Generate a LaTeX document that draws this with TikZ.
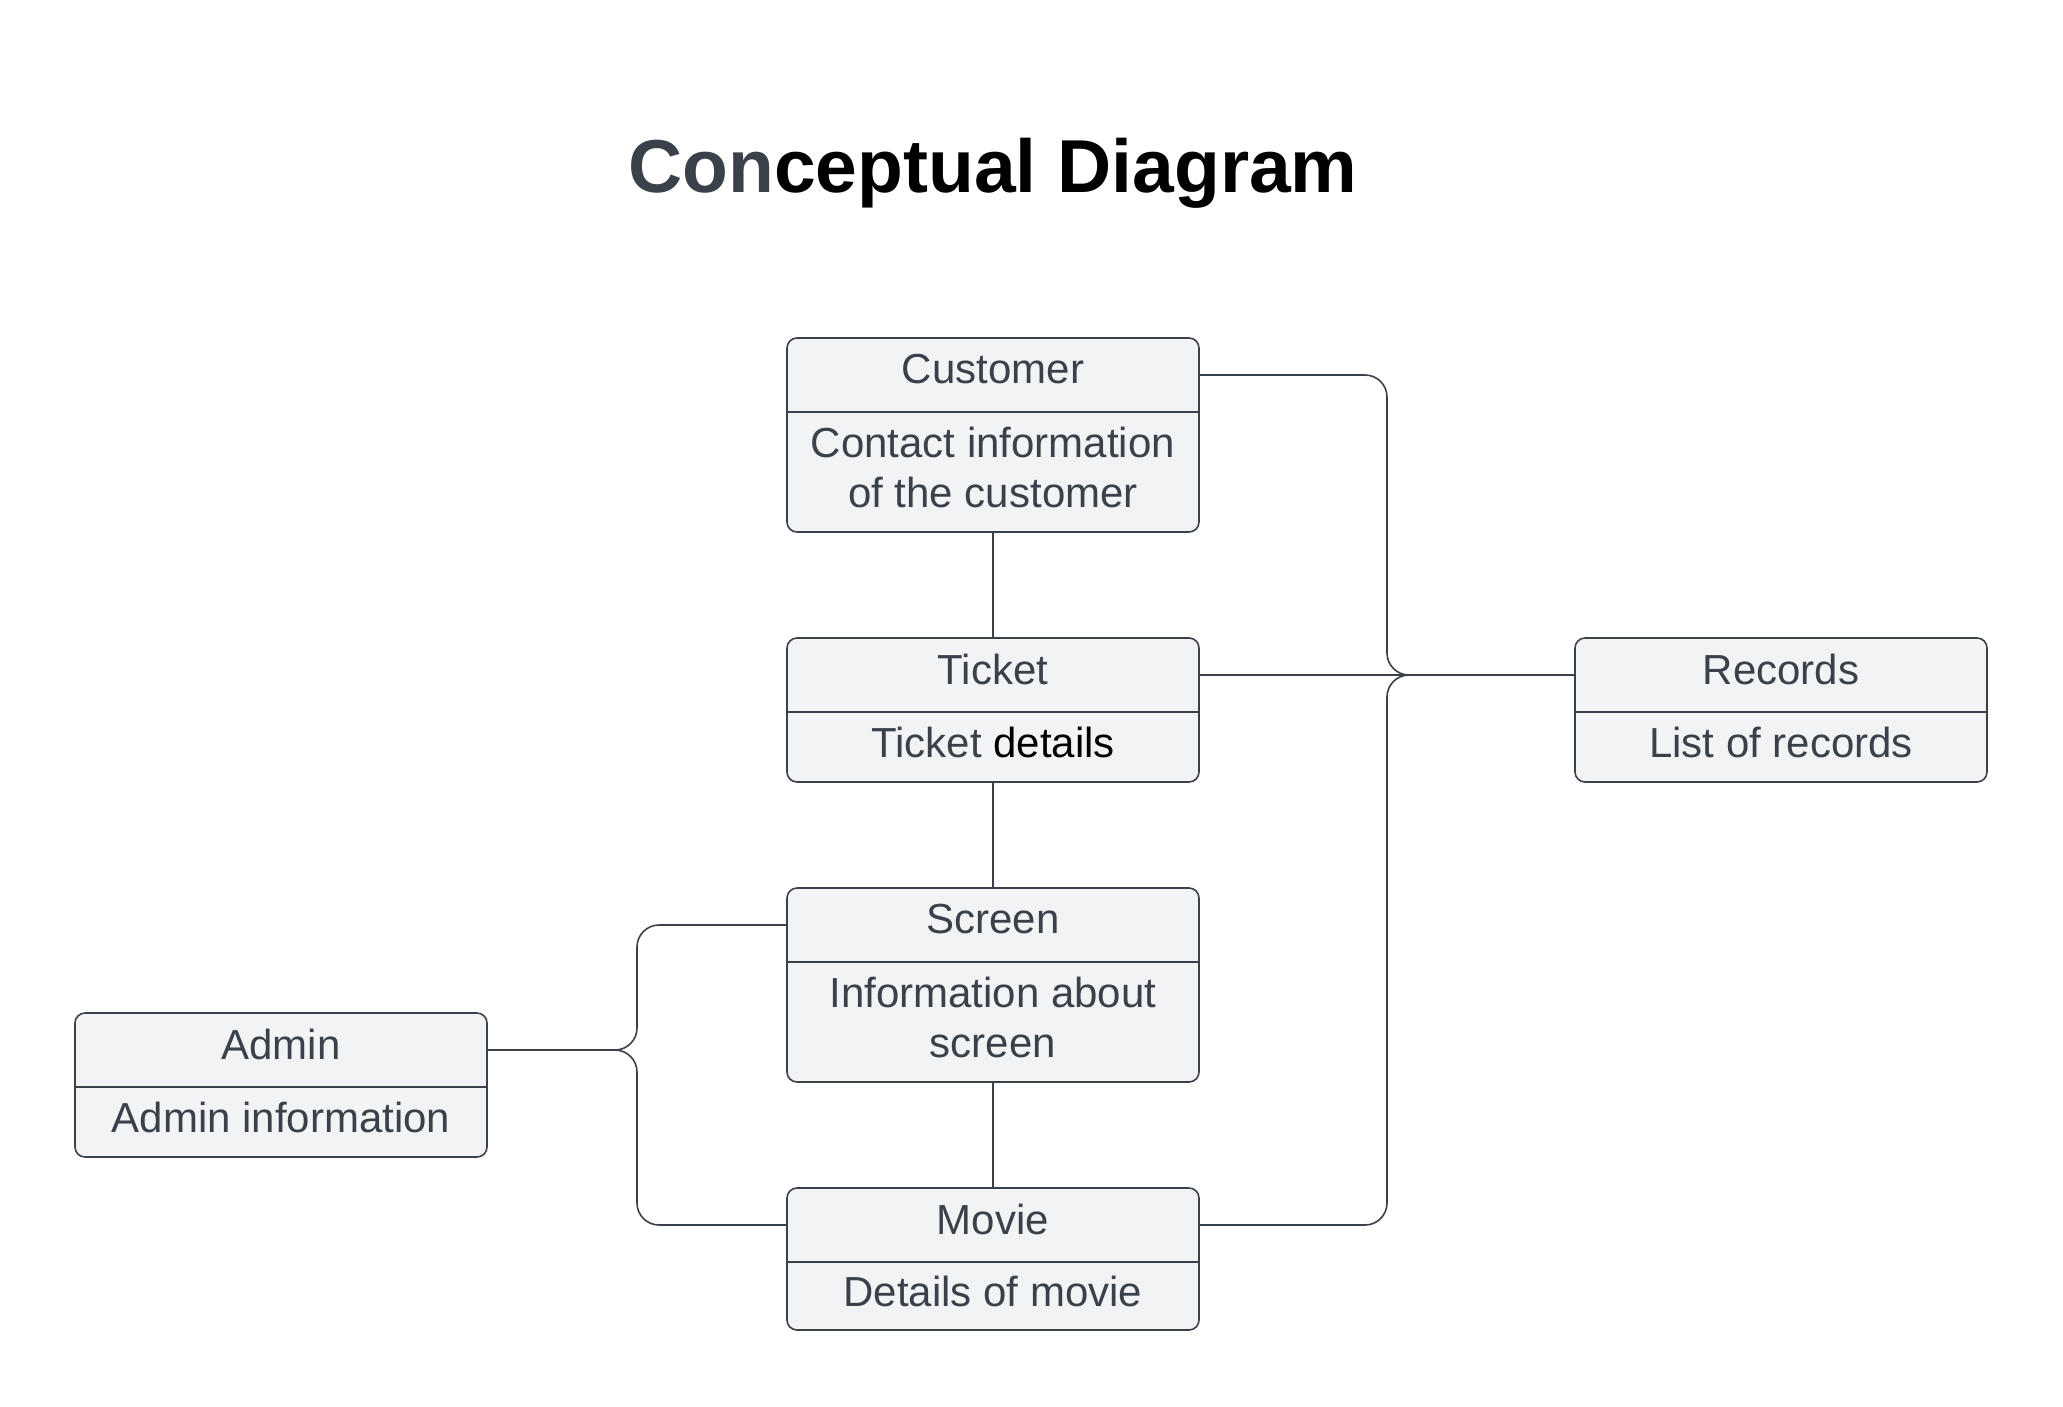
\documentclass[tikz,border=0pt]{standalone}
\usepackage{fontspec}
\setmainfont{Liberation Sans}
\usepackage{xcolor}
\usetikzlibrary{positioning}

\definecolor{ink}{HTML}{3A414A}
\definecolor{boxfill}{HTML}{F2F3F5}

\begin{document}
\begin{tikzpicture}[x=1pt, y=-1pt,
  entbox/.style={draw=ink, fill=boxfill, line width=1.6pt, rounded corners=10pt,
    minimum width=412pt, inner sep=0pt, outer sep=0pt},
  enthead/.style={minimum width=412pt, minimum height=74pt, inner sep=0pt, outer sep=0pt,
    text=ink, font=\fontsize{42}{50}\selectfont},
  entbody/.style={minimum width=412pt, inner sep=0pt, outer sep=0pt,
    text=ink, align=center, font=\fontsize{42}{50}\selectfont},
  divider/.style={draw=ink, line width=1.2pt},
  link/.style={draw=ink, line width=1.6pt, rounded corners=22pt}]
  \useasboundingbox (0,0) rectangle (2063,1406);

  % Title
  \node[anchor=base, font=\fontsize{75}{90}\selectfont\bfseries] (title) at (993,192)
    {\textcolor{ink}{Con}ceptual Diagram};

  % Customer
  \node[entbox, minimum height=194pt, anchor=north] (cust) at (993,338) {};
  \node[enthead, anchor=north] (custH) at (cust.north) {};
  \node[enthead, yshift=6pt] at (custH) {Customer};
  \draw[divider] (custH.south west) -- (custH.south east);
  \node[entbody, minimum height=120pt, anchor=north, yshift=5pt] (custB) at (custH.south)
    {Contact information\\of the customer};

  % Ticket
  \node[entbox, minimum height=144pt, anchor=north] (tick) at (993,638) {};
  \node[enthead, anchor=north] (tickH) at (tick.north) {};
  \node[enthead, yshift=6pt] at (tickH) {Ticket};
  \draw[divider] (tickH.south west) -- (tickH.south east);
  \node[entbody, minimum height=70pt, anchor=north, yshift=5pt] (tickB) at (tickH.south)
    {Ticket \textcolor{black}{details}};

  % Screen
  \node[entbox, minimum height=194pt, anchor=north] (scr) at (993,888) {};
  \node[enthead, anchor=north] (scrH) at (scr.north) {};
  \node[enthead, yshift=6pt] at (scrH) {Screen};
  \draw[divider] (scrH.south west) -- (scrH.south east);
  \node[entbody, minimum height=120pt, anchor=north, yshift=5pt] (scrB) at (scrH.south)
    {Information about\\screen};

  % Movie
  \node[entbox, minimum height=142pt, anchor=north] (mov) at (993,1188) {};
  \node[enthead, anchor=north] (movH) at (mov.north) {};
  \node[enthead, yshift=6pt] at (movH) {Movie};
  \draw[divider] (movH.south west) -- (movH.south east);
  \node[entbody, minimum height=68pt, anchor=north, yshift=5pt] (movB) at (movH.south)
    {Details of movie};

  % Admin
  \node[entbox, minimum height=144pt, anchor=north] (adm) at (281,1013) {};
  \node[enthead, anchor=north] (admH) at (adm.north) {};
  \node[enthead, yshift=6pt] at (admH) {Admin};
  \draw[divider] (admH.south west) -- (admH.south east);
  \node[entbody, minimum height=70pt, anchor=north, yshift=5pt] (admB) at (admH.south)
    {Admin information};

  % Records
  \node[entbox, minimum height=144pt, anchor=north] (rec) at (1781,638) {};
  \node[enthead, anchor=north] (recH) at (rec.north) {};
  \node[enthead, yshift=6pt] at (recH) {Records};
  \draw[divider] (recH.south west) -- (recH.south east);
  \node[entbody, minimum height=70pt, anchor=north, yshift=5pt] (recB) at (recH.south)
    {List of records};

  % Connectors
  \draw[link] (cust.south) -- (tick.north);
  \draw[link] (tick.south) -- (scr.north);
  \draw[link] (scr.south) -- (mov.north);
  \draw[link] (tickH.east) -- (recH.west);

  \coordinate (recJ) at (1387,675);
  \draw[link] (custH.east) -| (recJ) -- (recH.west);
  \draw[link] (movH.east) -| (recJ) -- (recH.west);

  \coordinate (admJ) at (637,1050);
  \draw[link] (admH.east) -- (admJ) |- (scrH.west);
  \draw[link] (admH.east) -- (admJ) |- (movH.west);
\end{tikzpicture}
\end{document}
